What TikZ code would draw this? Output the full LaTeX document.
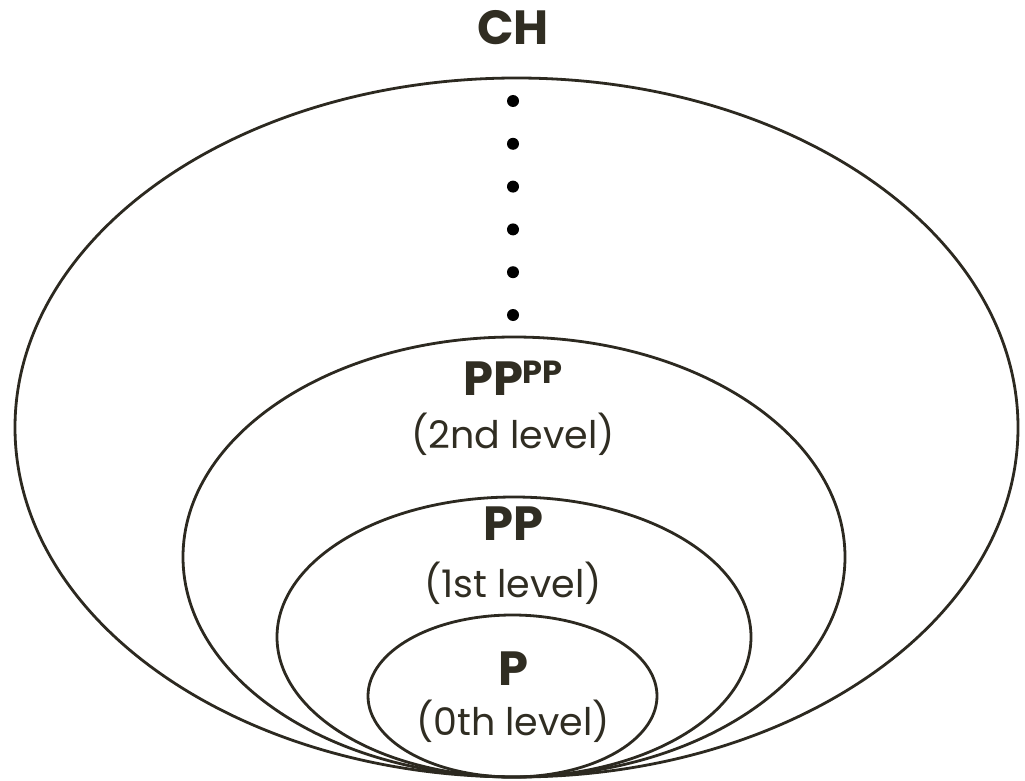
\documentclass[tikz,border=0pt]{standalone}
\usepackage{fontspec}
\setmainfont{Poppins}
\definecolor{ink}{RGB}{44,41,32}
\definecolor{textink}{RGB}{48,45,34}
\begin{document}
\begin{tikzpicture}[x=1pt,y=-1pt,
  ring/.style={draw=ink,line width=2.8pt},
  bigtitle/.style={anchor=base,inner sep=0pt,text=textink,font=\fontsize{48}{50}\selectfont\bfseries},
  leveltext/.style={anchor=base,inner sep=0pt,text=textink,font=\fontsize{38}{40}\selectfont},
  dot/.style={circle,fill=black,inner sep=0pt,minimum size=12pt}]
\useasboundingbox (0,0) rectangle (1025,781);
% nested classes, all touching at the bottom
\draw[ring] (516.5,427.5) ellipse [x radius=501.5, y radius=349.5];
\draw[ring] (514,557) ellipse [x radius=331, y radius=220];
\draw[ring] (514,637) ellipse [x radius=237, y radius=140];
\draw[ring] (512.5,696) ellipse [x radius=144.5, y radius=81];
% labels
\node[bigtitle] (ch) at (513,45) {CH};
\node[bigtitle] (pppp) at (513,395) {PP\raisebox{12pt}{\fontsize{32}{34}\selectfont PP}};
\node[leveltext] (l2) at (513,448) {(2nd level)};
\node[bigtitle] (pp) at (513,540) {PP};
\node[leveltext] (l1) at (513,597) {(1st level)};
\node[bigtitle] (p) at (513,685) {P};
\node[leveltext] (l0) at (513,735) {(0th level)};
% vertical ellipsis between levels
\foreach \i/\yy in {1/101,2/143.8,3/186.6,4/229.4,5/272.2,6/315}
  \node[dot] (d\i) at (513,\yy) {};
\end{tikzpicture}
\end{document}
